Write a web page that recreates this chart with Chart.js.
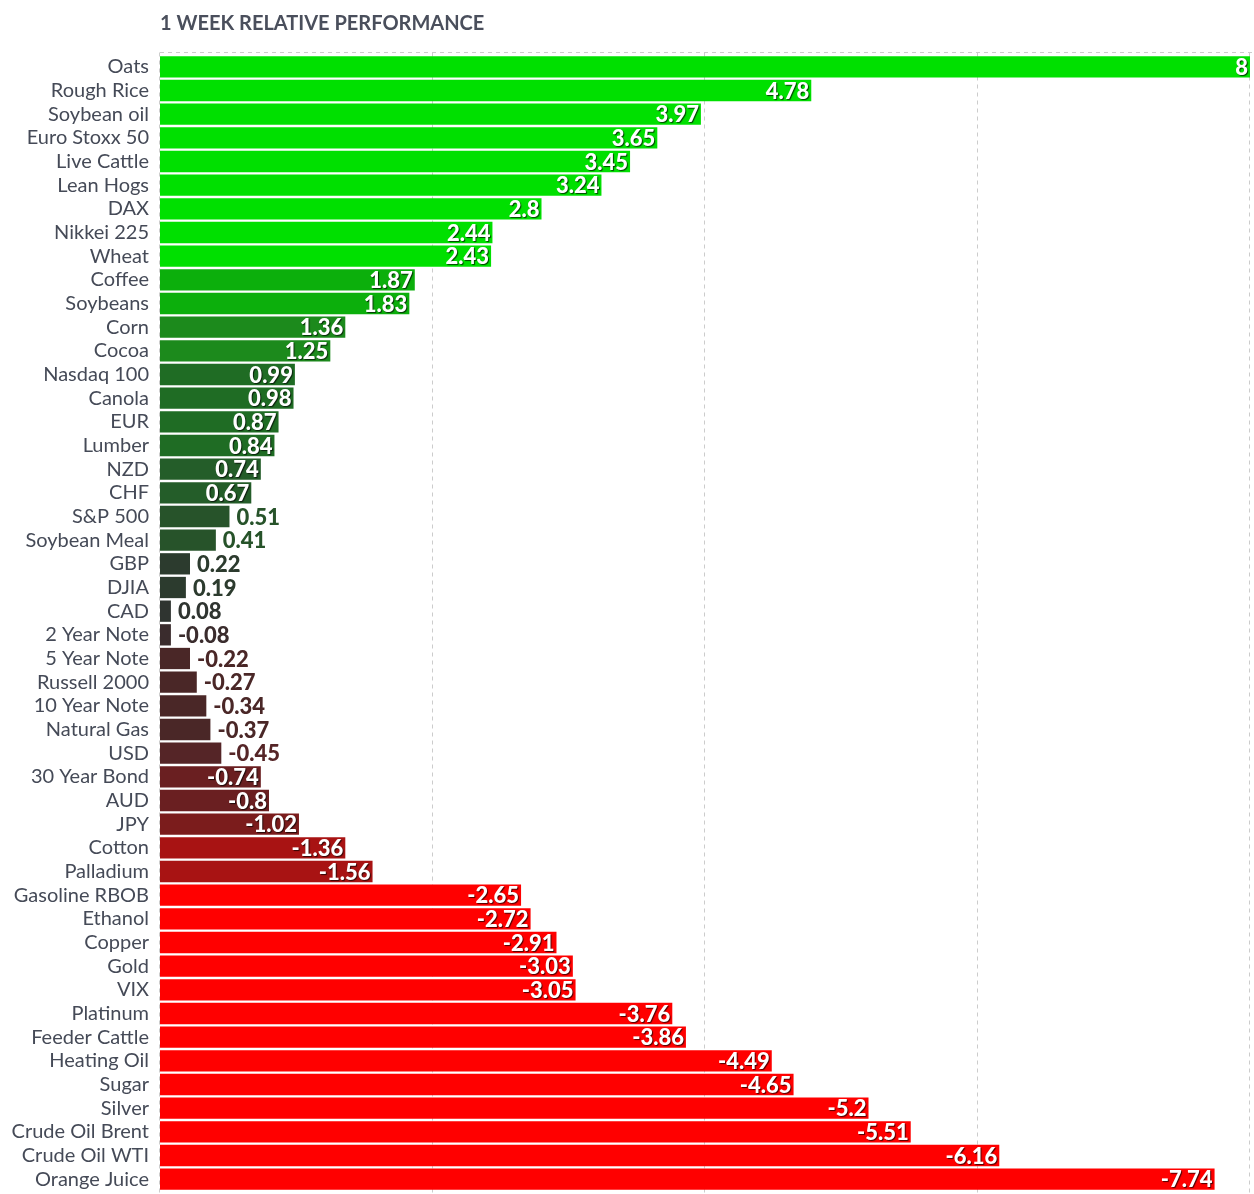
<!DOCTYPE html>
<html>
<head>
<meta charset="utf-8">
<script src="https://cdn.jsdelivr.net/npm/chart.js@4"></script>
<style>
html,body{margin:0;padding:0;background:#fff;}
#wrap{position:relative;width:1254px;height:1194px;}
</style>
</head>
<body>
<div id="wrap"><canvas id="c"></canvas></div>
<script>
const title = "1 WEEK RELATIVE PERFORMANCE";
const categories = ["Oats","Rough Rice","Soybean oil","Euro Stoxx 50","Live Cattle","Lean Hogs","DAX","Nikkei 225","Wheat","Coffee","Soybeans","Corn","Cocoa","Nasdaq 100","Canola","EUR","Lumber","NZD","CHF","S&P 500","Soybean Meal","GBP","DJIA","CAD","2 Year Note","5 Year Note","Russell 2000","10 Year Note","Natural Gas","USD","30 Year Bond","AUD","JPY","Cotton","Palladium","Gasoline RBOB","Ethanol","Copper","Gold","VIX","Platinum","Feeder Cattle","Heating Oil","Sugar","Silver","Crude Oil Brent","Crude Oil WTI","Orange Juice"];
const values = [8,4.78,3.97,3.65,3.45,3.24,2.8,2.44,2.43,1.87,1.83,1.36,1.25,0.99,0.98,0.87,0.84,0.74,0.67,0.51,0.41,0.22,0.19,0.08,-0.08,-0.22,-0.27,-0.34,-0.37,-0.45,-0.74,-0.8,-1.02,-1.36,-1.56,-2.65,-2.72,-2.91,-3.03,-3.05,-3.76,-3.86,-4.49,-4.65,-5.2,-5.51,-6.16,-7.74];
const gridTicks = [0,2,4,6,8];

function colorFor(v){
  if (v >= 2) return '#00e000';
  if (v >= 1.5) return '#0caf0c';
  if (v >= 1.0) return '#1c8a1c';
  if (v >= 0.8) return '#1f6c24';
  if (v >= 0.6) return '#245d29';
  if (v >= 0.3) return '#27532a';
  if (v >= 0.1) return '#2c3b2e';
  if (v >= 0) return '#2f3430';
  if (v > -0.1) return '#3a2c2d';
  if (v > -0.4) return '#4a2727';
  if (v > -0.6) return '#552527';
  if (v > -0.9) return '#6a1f21';
  if (v > -1.2) return '#7b1c1c';
  if (v > -2) return '#a81313';
  return '#ff0000';
}

const absVals = values.map(v => Math.abs(v));
const barColors = values.map(colorFor);

const decoPlugin = {
  id: 'deco',
  beforeDraw(chart){
    const {ctx, chartArea} = chart;
    ctx.save();
    ctx.fillStyle = '#4a4f5c';
    ctx.font = 'bold 20px Lato';
    ctx.textAlign = 'left';
    ctx.textBaseline = 'middle';
    ctx.fillText(title, 160, 24);
    ctx.strokeStyle = '#cccccc';
    ctx.lineWidth = 1;
    ctx.setLineDash([4,4]);
    ctx.beginPath();
    ctx.moveTo(chartArea.left, 52.5);
    ctx.lineTo(chart.width, 52.5);
    ctx.stroke();
    const xs = chart.scales.x;
    gridTicks.forEach(t => {
      const x = Math.round(xs.getPixelForValue(t)) - 0.5;
      ctx.beginPath();
      ctx.moveTo(x, 52.5);
      ctx.lineTo(x, chart.height);
      ctx.stroke();
    });
    ctx.restore();
  },
  afterDatasetsDraw(chart){
    const {ctx} = chart;
    const meta = chart.getDatasetMeta(0);
    ctx.save();
    ctx.font = '900 22px Lato';
    ctx.textBaseline = 'middle';
    meta.data.forEach((bar, i) => {
      const v = values[i];
      const txt = String(v);
      if (Math.abs(v) >= 0.6) {
        ctx.textAlign = 'right';
        ctx.shadowColor = 'rgba(0,0,0,0.7)';
        ctx.shadowOffsetX = 1;
        ctx.shadowOffsetY = 1;
        ctx.shadowBlur = 1;
        ctx.fillStyle = '#ffffff';
        ctx.fillText(txt, bar.x - 2, bar.y + 1);
      } else {
        ctx.textAlign = 'left';
        ctx.shadowColor = 'rgba(255,255,255,0)';
        ctx.shadowOffsetX = 0;
        ctx.shadowOffsetY = 0;
        ctx.shadowBlur = 0;
        ctx.fillStyle = barColors[i];
        ctx.fillText(txt, bar.x + 7, bar.y + 1);
      }
    });
    ctx.restore();
  }
};

new Chart(document.getElementById('c'), {
  type: 'bar',
  data: {
    labels: categories,
    datasets: [{
      data: absVals,
      backgroundColor: barColors,
      borderWidth: 0,
      barPercentage: 0.9,
      categoryPercentage: 1.0
    }]
  },
  options: {
    indexAxis: 'y',
    responsive: true,
    maintainAspectRatio: false,
    animation: false,
    layout: { padding: { top: 55, bottom: 3, right: 4, left: 0 } },
    plugins: { legend: { display: false }, tooltip: { enabled: false }, title: { display: false } },
    scales: {
      x: {
        min: 0, max: 8,
        display: false
      },
      y: {
        afterFit(scale){ scale.width = 160; scale.paddingTop = 0; scale.paddingBottom = 0; },
        ticks: { color: '#454a57', font: { family: 'Lato', size: 20 }, padding: 11, autoSkip: false },
        grid: { display: false, drawTicks: false },
        border: { display: false }
      }
    }
  },
  plugins: [decoPlugin]
});
</script>
</body>
</html>
